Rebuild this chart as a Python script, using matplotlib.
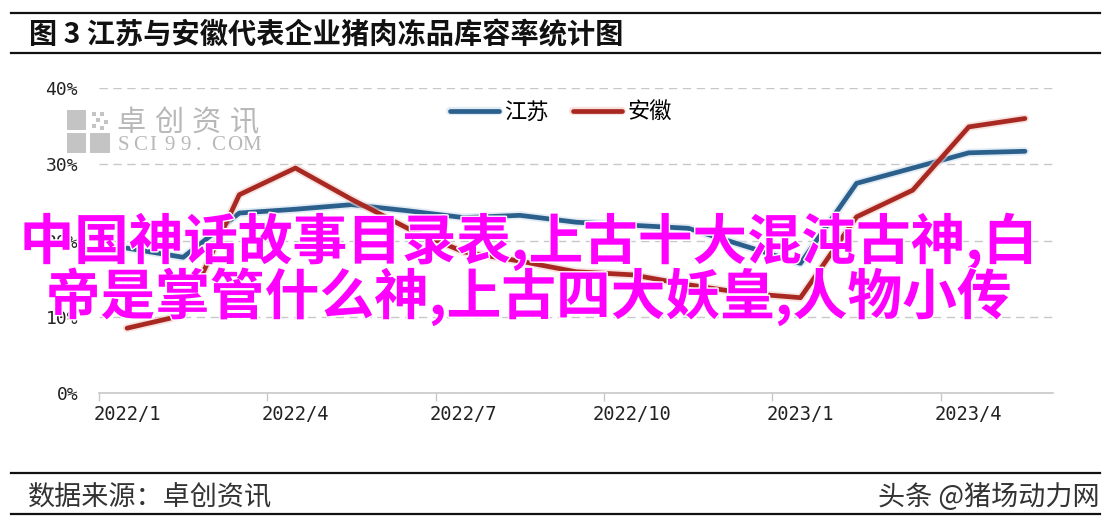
import matplotlib
matplotlib.use("Agg")
import matplotlib.pyplot as plt
import matplotlib.patheffects as pe
from matplotlib.lines import Line2D
from matplotlib.patches import Rectangle

plt.rcParams['font.family'] = ['Noto Sans CJK SC', 'DejaVu Sans']

# monthly data 2022/1 .. 2023/5 (%)
months = ['2022/1', '2022/2', '2022/3', '2022/4', '2022/5', '2022/6', '2022/7',
          '2022/8', '2022/9', '2022/10', '2022/11', '2022/12', '2023/1',
          '2023/2', '2023/3', '2023/4', '2023/5']
jiangsu = [19.0, 17.8, 23.6, 24.1, 24.7, 23.9, 23.0, 23.3, 22.4, 22.0, 21.6,
           19.3, 17.0, 27.5, 29.5, 31.5, 31.7]
anhui = [8.5, 10.2, 26.0, 29.5, 25.4, 21.6, 18.5, 17.3, 15.9, 15.5, 14.2,
         13.1, 12.5, 23.1, 26.6, 34.9, 36.0]
yticks = [0, 10, 20, 30, 40]
label_every = 3

title = '图 3 江苏与安徽代表企业猪肉冻品库容率统计图'
source = '数据来源：卓创资讯'
credit = '头条 @猪场动力网'
overlay1 = '中国神话故事目录表,上古十大混沌古神,白'
overlay2 = '帝是掌管什么神,上古四大妖皇,人物小传'

W, H = 1116, 528


def fx(x):
    return x / W


def fy(y):
    return 1 - y / H


fig = plt.figure(figsize=(W / 100, H / 100), dpi=100)
fig.patch.set_facecolor('white')

ax = fig.add_axes([fx(99), fy(393), fx(1053) - fx(99), fy(88) - fy(393)])
x = list(range(len(months)))

blue = '#2b5f8c'
red = '#a82822'
ax.plot(x, jiangsu, color=blue, lw=3.4, label='江苏', solid_capstyle='round',
        path_effects=[pe.Stroke(linewidth=6, foreground='#cfe0ee', alpha=0.6), pe.Normal()])
ax.plot(x, anhui, color=red, lw=3.4, label='安徽', solid_capstyle='round',
        path_effects=[pe.Stroke(linewidth=6, foreground='#f2d0cc', alpha=0.6), pe.Normal()])

ax.set_xlim(-0.5, len(months) - 0.5)
ax.set_ylim(0, 40)

ax.set_yticks(yticks)
ax.set_yticklabels([f'{v}%' for v in yticks], family='DejaVu Sans Mono',
                   fontsize=13, color='#222222')
ax.tick_params(axis='y', length=0, pad=15)
ax.yaxis.grid(True, color='#c8c8c8', lw=1, linestyle=(0, (6, 4)))
ax.set_axisbelow(True)

# tick marks between categories, labels on categories
ax.set_xticks([i - 0.5 for i in range(0, len(months), label_every)])
ax.set_xticklabels([])
ax.set_xticks(x[::label_every], minor=True)
ax.set_xticklabels(months[::label_every], minor=True, family='DejaVu Sans Mono',
                   fontsize=13.5, color='#222222')
ax.tick_params(axis='x', which='major', length=6, color='#c8c8c8', width=1)
ax.tick_params(axis='x', which='minor', length=0, pad=9)

for s in ['left', 'right', 'top']:
    ax.spines[s].set_visible(False)
ax.spines['bottom'].set_color('#c8c8c8')
ax.spines['bottom'].set_linewidth(1.2)

leg = ax.legend(loc='center', bbox_to_anchor=(fx(561), fy(112)),
                bbox_transform=fig.transFigure, ncol=2, frameon=False,
                fontsize=16, handlelength=2.2, handletextpad=0.25,
                columnspacing=1.1)

# header and footer rules
for yy in [13, 53, 473, 514]:
    fig.add_artist(Line2D([fx(11), fx(1100)], [fy(yy), fy(yy)],
                          color='#111111', lw=1.6))
fig.text(fx(29), fy(35), title, fontsize=20.3, fontweight='bold',
         va='center', ha='left', color='#111111')
fig.text(fx(28), fy(497), source, fontsize=19.5, va='center', ha='left',
         color='#333333')
fig.text(fx(1100), fy(497), credit, fontsize=19.5, va='center', ha='right',
         color='#333333')

# watermark
wm = '#c4c4c4'
for (x0, y0, x1, y1) in [(67, 110, 86, 130), (67, 133, 86, 153), (90, 133, 110, 153)]:
    fig.add_artist(Rectangle((fx(x0), fy(y1)), fx(x1) - fx(x0), fy(y0) - fy(y1),
                             transform=fig.transFigure, color=wm, lw=0))
for (dx, dy) in [(92, 112), (100, 112), (96, 118), (104, 120), (92, 124), (100, 126)]:
    fig.add_artist(Rectangle((fx(dx), fy(dy + 4)), fx(4), fy(0) - fy(4),
                             transform=fig.transFigure, color=wm, lw=0))
for i, ch in enumerate('卓创资讯'):
    fig.text(fx(116 + 38 * i), fy(123), ch, fontsize=21, color='#b8b8b8',
             va='center', ha='left')
for i, ch in enumerate('SCI99.COM'):
    fig.text(fx(118 + 15.6 * i), fy(145), ch, family='Liberation Serif',
             fontsize=15, color='#b8b8b8', va='center', ha='left')

# overlaid magenta text
stroke = [pe.withStroke(linewidth=2, foreground='white')]
fig.text(fx(529), fy(242), overlay1, fontsize=39.3, fontweight='bold',
         color='#ff00ff', ha='center', va='center', path_effects=stroke)
fig.text(fx(529), fy(297), overlay2, fontsize=39.4, fontweight='bold',
         color='#ff00ff', ha='center', va='center', path_effects=stroke)

fig.savefig('out.png', dpi=100, facecolor='white')
